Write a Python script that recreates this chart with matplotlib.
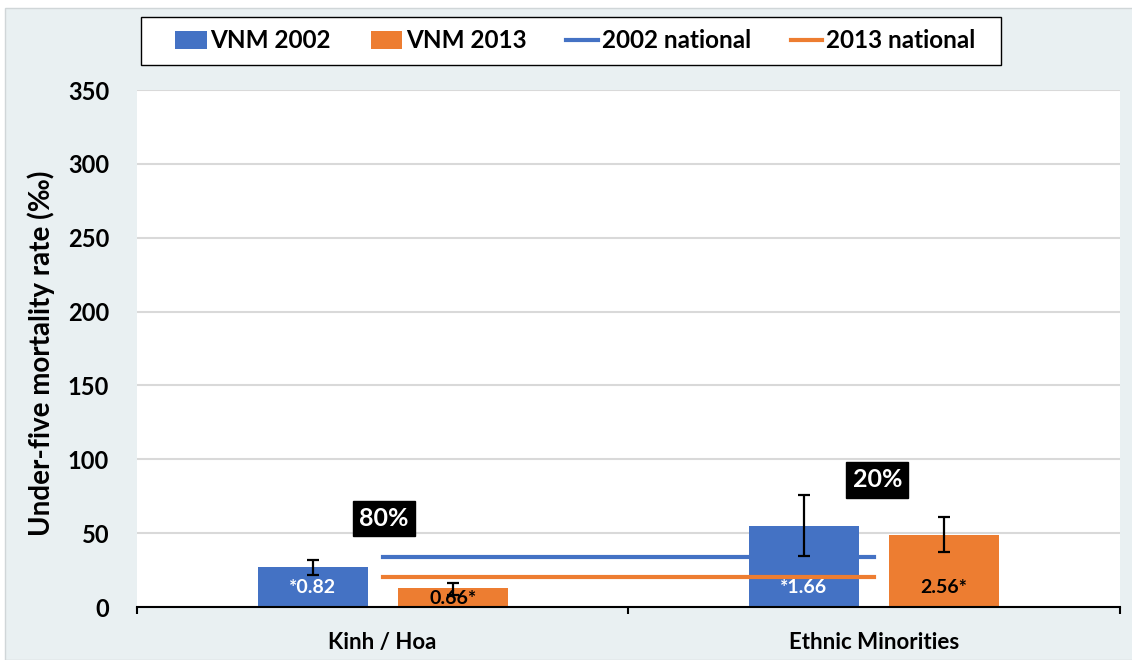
import numpy as np
import matplotlib.pyplot as plt
from matplotlib.patches import Rectangle

groups = ["Kinh / Hoa", "Ethnic Minorities"]
rate_2002 = [27, 55]
rate_2013 = [13, 49]
err_2002_lo = [5, 20.5]
err_2002_hi = [5, 21]
err_2013_lo = [5, 12]
err_2013_hi = [3, 12]
national_2002 = [34, 34]
national_2013 = [20, 20]
labels_2002 = ["*0.82", "*1.66"]
labels_2013 = ["0.66*", "2.56*"]
reduction = ["80%", "20%"]
yticks = [0, 50, 100, 150, 200, 250, 300, 350]

blue = "#4472C4"
orange = "#ED7D31"
panel = "#e9f0f2"
plt.rcParams["font.family"] = ["Lato", "DejaVu Sans"]
plt.rcParams["font.weight"] = "bold"

W, H = 1132, 660
fig = plt.figure(figsize=(W / 100, H / 100), dpi=100, facecolor="white")
fig.patches.append(Rectangle((5 / W, 0), 1, 1 - 8 / H, transform=fig.transFigure,
                             fc=panel, ec="#d0d6d8", lw=1, zorder=-10))
ax = fig.add_axes([0.121, 0.0803, 0.868, 0.7833])
ax.set_facecolor("white")

x = np.arange(len(groups))
w = 0.224
off = 0.1426

b1 = ax.bar(x - off, rate_2002, w, color=blue, zorder=2)
b2 = ax.bar(x + off, rate_2013, w, color=orange, zorder=2)
l1, = ax.plot(x, national_2002, color=blue, lw=3, zorder=3)
l2, = ax.plot(x, national_2013, color=orange, lw=3, zorder=3)
ax.errorbar(x - off, rate_2002, yerr=[err_2002_lo, err_2002_hi], fmt="none",
            ecolor="black", elinewidth=1.6, capsize=4, capthick=1.6, zorder=4)
ax.errorbar(x + off, rate_2013, yerr=[err_2013_lo, err_2013_hi], fmt="none",
            ecolor="black", elinewidth=1.6, capsize=4, capthick=1.6, zorder=4)

# value labels inside the bars
for i in range(len(groups)):
    ax.text(x[i] - off, 13, labels_2002[i], color="white", ha="center", va="center",
            fontsize=14, fontweight="bold", zorder=5)
ax.text(x[0] + off, 6, labels_2013[0], color="black", ha="center", va="center",
        fontsize=14, fontweight="bold", zorder=5)
ax.text(x[1] + off, 13, labels_2013[1], color="black", ha="center", va="center",
        fontsize=14, fontweight="bold", zorder=5)

# reduction boxes
box = dict(boxstyle="square,pad=0.25", fc="black", ec="black")
ax.text(x[0] + 0.003, 60, reduction[0], color="white", ha="center", va="center",
        fontsize=18, fontweight="bold", bbox=box, zorder=5)
ax.text(x[1] + 0.007, 86, reduction[1], color="white", ha="center", va="center",
        fontsize=18, fontweight="bold", bbox=box, zorder=5)

ax.set_xlim(-0.5, 1.5)
ax.set_ylim(0, 350)
ax.tick_params(axis="y", length=0, pad=20)
ax.tick_params(axis="x", which="major", length=5, width=1.5, color="black")
ax.tick_params(axis="x", which="minor", length=0, pad=18)
ax.set_yticks(yticks, labels=[str(v) for v in yticks])
ax.yaxis.grid(True, color="#d9d9d9", lw=1.5, zorder=0)
ax.set_axisbelow(True)

ax.set_xticks([-0.5, 0.5, 1.5], labels=["", "", ""])
ax.set_xticks(x, labels=groups, minor=True)
plt.setp(ax.get_yticklabels(), fontsize=17, fontweight="bold")
plt.setp(ax.get_xticklabels(minor=True), fontsize=16, fontweight="bold")

for s in ["top", "right", "left"]:
    ax.spines[s].set_visible(False)
ax.spines["bottom"].set_linewidth(1.5)

ax.set_ylabel("Under-five mortality rate (‰)", fontsize=20, fontweight="bold")
ax.yaxis.set_label_coords(-0.083, 0.49)

# legend box with entries spread across it
fig.patches.append(Rectangle((141 / W, 1 - 65 / H), 860 / W, 48 / H, transform=fig.transFigure,
                             fc="white", ec="black", lw=1, zorder=1))
leg = fig.legend([b1, b2, l1, l2], ["VNM 2002", "VNM 2013", "2002 national", "2013 national"],
                 loc="center", bbox_to_anchor=(175 / W, 1 - 65 / H, 800 / W, 48 / H),
                 mode="expand", ncol=4, frameon=False,
                 prop={"weight": "bold", "size": 17.5}, handlelength=1.3,
                 handletextpad=0.15, borderpad=0, borderaxespad=0)

fig.savefig("out.png", dpi=100, facecolor=fig.get_facecolor())
